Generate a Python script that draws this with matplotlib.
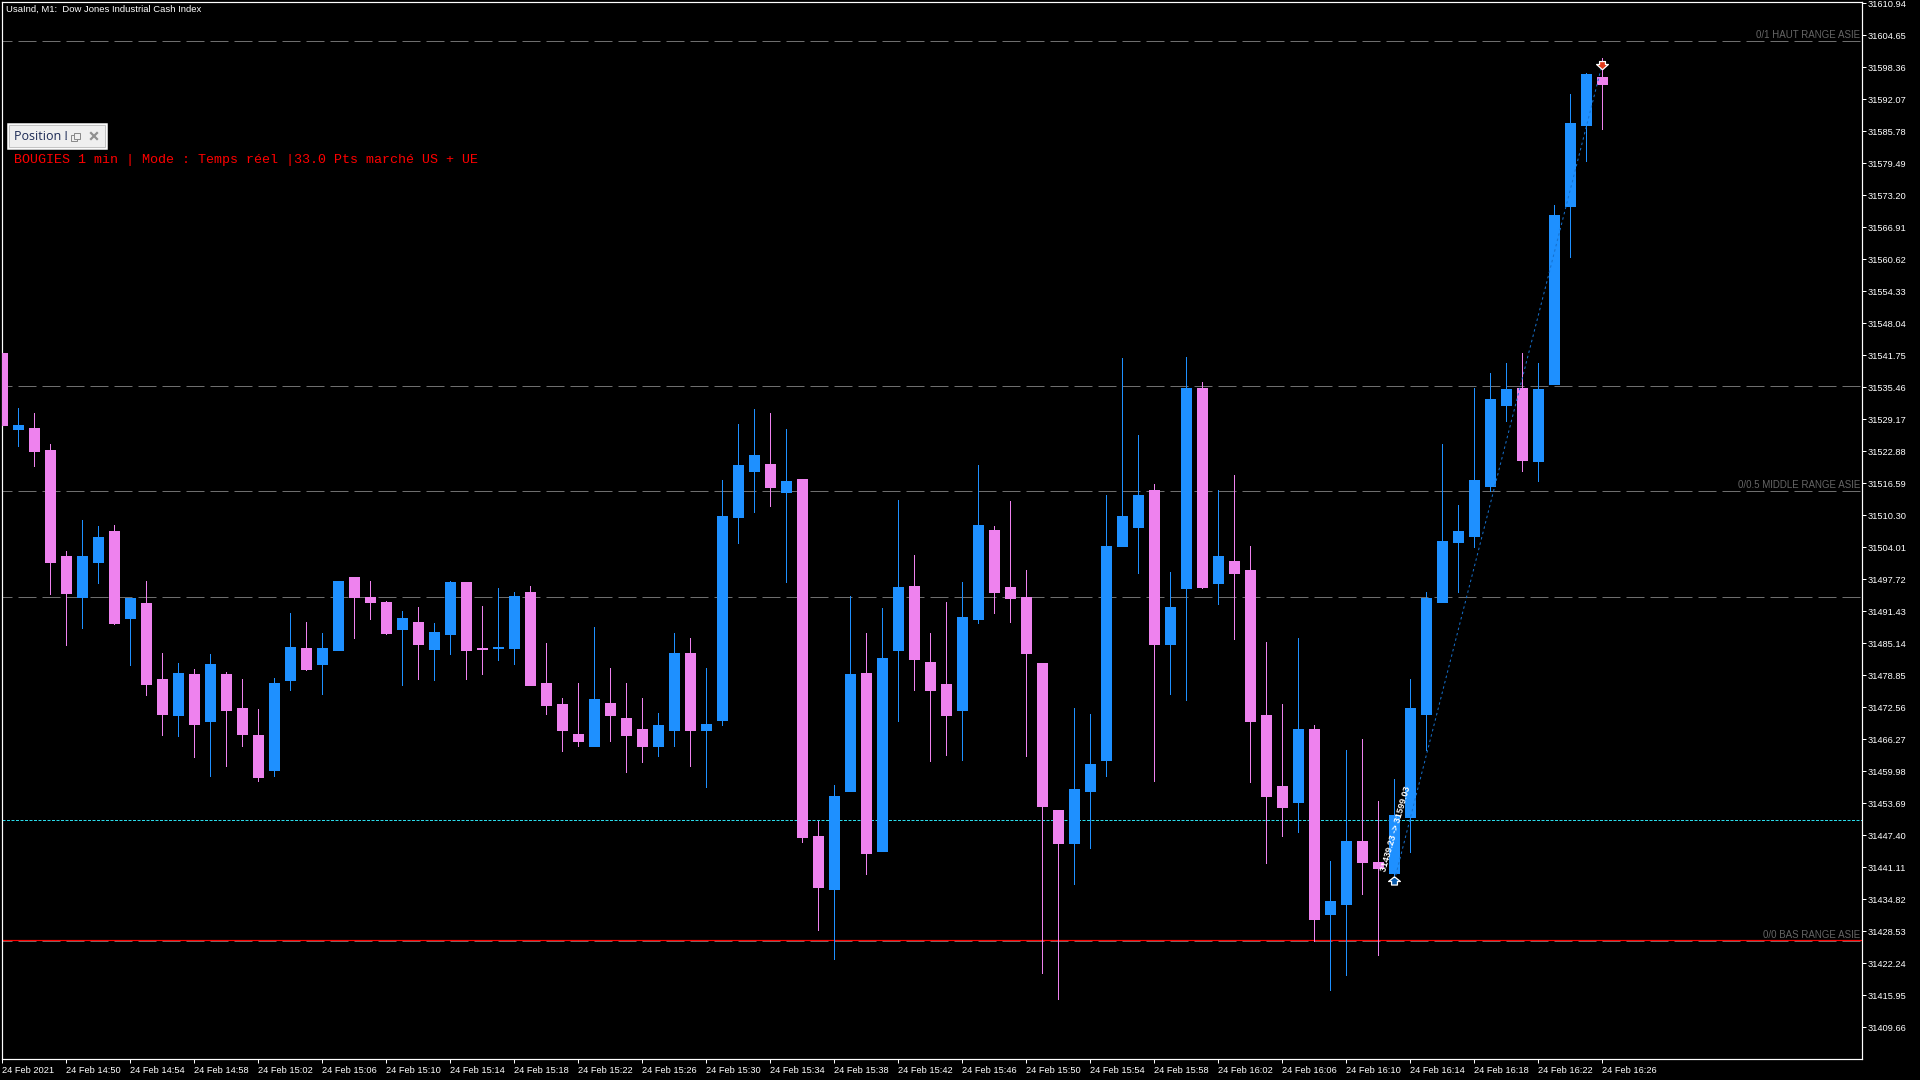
import matplotlib
matplotlib.use('Agg')
import matplotlib.pyplot as plt
from matplotlib.patches import Rectangle
from matplotlib.transforms import ScaledTranslation

plt.rcParams['font.family'] = ['Liberation Sans', 'DejaVu Sans']
plt.rcParams['lines.scale_dashes'] = False

opens = [31542.2, 31527.3, 31527.5, 31523.1, 31502.3, 31494.2, 31501.1, 31507.2, 31490.1, 31493.1,
         31478.1, 31471.0, 31479.1, 31469.9, 31479.1, 31472.4, 31467.1, 31460.2, 31477.9, 31484.2,
         31481.1, 31483.8, 31498.2, 31494.2, 31493.3, 31488.0, 31489.3, 31484.0, 31487.0, 31497.2,
         31484.2, 31484.2, 31484.2, 31495.2, 31477.3, 31473.2, 31467.3, 31465.0, 31473.4, 31470.5,
         31468.3, 31465.0, 31468.1, 31483.2, 31468.1, 31470.1, 31510.0, 31519.0, 31520.4, 31514.9,
         31517.4, 31447.2, 31436.9, 31456.1, 31479.3, 31444.4, 31483.8, 31496.4, 31481.5, 31477.2,
         31472.1, 31490.0, 31507.4, 31496.2, 31494.2, 31481.3, 31452.4, 31445.9, 31456.1, 31462.3,
         31504.3, 31508.0, 31515.3, 31485.0, 31496.0, 31535.3, 31497.0, 31501.3, 31499.6, 31471.0,
         31457.1, 31454.0, 31468.3, 31431.9, 31433.9, 31446.3, 31442.1, 31440.0, 31451.0, 31471.3,
         31493.3, 31505.0, 31506.2, 31516.0, 31532.0, 31535.3, 31521.0, 31536.1, 31571.1, 31587.0,
         31596.5]
highs = [31542.2, 31531.4, 31530.4, 31524.3, 31503.3, 31509.4, 31508.2, 31508.4, 31494.0, 31497.4,
         31483.2, 31481.3, 31480.1, 31483.0, 31479.5, 31478.1, 31472.2, 31478.3, 31491.1, 31489.3,
         31487.2, 31497.4, 31498.2, 31497.4, 31493.5, 31491.5, 31492.3, 31489.1, 31497.4, 31497.2,
         31492.5, 31496.0, 31495.2, 31496.4, 31485.2, 31474.4, 31477.3, 31488.4, 31480.3, 31477.3,
         31474.4, 31471.5, 31487.1, 31486.2, 31480.3, 31517.2, 31528.2, 31531.2, 31530.4, 31527.3,
         31517.4, 31450.2, 31457.3, 31494.5, 31487.1, 31492.1, 31513.3, 31502.5, 31487.1, 31493.3,
         31497.2, 31520.2, 31508.2, 31513.1, 31499.6, 31481.3, 31452.4, 31472.4, 31471.3, 31514.3,
         31541.2, 31526.1, 31516.5, 31499.2, 31541.4, 31536.5, 31515.3, 31518.3, 31504.3, 31485.4,
         31473.2, 31486.2, 31469.1, 31442.4, 31464.2, 31466.3, 31454.2, 31458.5, 31478.1, 31495.2,
         31524.3, 31512.4, 31535.3, 31538.3, 31540.2, 31542.2, 31540.2, 31571.3, 31593.1, 31597.2,
         31600.2]
lows = [31528.1, 31523.9, 31520.0, 31494.8, 31484.8, 31488.2, 31497.0, 31488.9, 31480.9, 31475.0,
        31467.1, 31466.9, 31462.8, 31459.1, 31461.0, 31465.0, 31458.1, 31459.1, 31476.0, 31479.9,
        31475.2, 31483.8, 31486.2, 31489.9, 31487.0, 31477.0, 31478.1, 31477.9, 31483.0, 31478.1,
        31479.1, 31481.9, 31481.1, 31477.0, 31471.2, 31464.0, 31465.0, 31465.0, 31465.9, 31459.9,
        31461.8, 31463.0, 31465.0, 31461.1, 31456.9, 31469.1, 31504.9, 31510.9, 31512.1, 31497.2,
        31446.1, 31428.8, 31423.1, 31456.1, 31439.8, 31444.4, 31469.8, 31476.0, 31462.0, 31463.2,
        31462.3, 31489.1, 31491.1, 31489.4, 31463.0, 31420.3, 31415.2, 31437.9, 31444.9, 31459.1,
        31504.3, 31499.0, 31458.1, 31475.2, 31474.0, 31496.0, 31492.9, 31486.0, 31457.9, 31442.0,
        31447.2, 31448.1, 31426.7, 31417.0, 31420.0, 31435.9, 31423.9, 31439.1, 31444.1, 31464.2,
        31493.3, 31495.2, 31504.1, 31515.0, 31528.8, 31519.0, 31517.1, 31536.1, 31561.1, 31579.9,
        31586.2]
closes = [31528.1, 31528.1, 31522.9, 31501.1, 31495.0, 31502.3, 31506.0, 31489.1, 31494.0, 31477.1,
          31471.2, 31479.3, 31469.3, 31481.1, 31472.0, 31467.3, 31458.9, 31477.3, 31484.4, 31480.1,
          31484.2, 31497.4, 31494.2, 31493.3, 31487.2, 31490.1, 31485.0, 31487.4, 31497.2, 31483.8,
          31484.0, 31484.4, 31494.4, 31477.0, 31473.0, 31468.1, 31465.9, 31474.2, 31471.0, 31467.1,
          31465.0, 31469.1, 31483.2, 31468.1, 31469.3, 31510.2, 31520.2, 31522.2, 31515.9, 31517.1,
          31447.1, 31437.3, 31455.2, 31479.1, 31443.9, 31482.3, 31496.2, 31482.0, 31476.0, 31471.0,
          31490.3, 31508.4, 31495.2, 31494.0, 31483.2, 31453.1, 31445.9, 31456.5, 31461.4, 31504.3,
          31510.2, 31514.3, 31485.0, 31492.3, 31535.3, 31496.2, 31502.3, 31499.0, 31469.8, 31455.2,
          31453.0, 31468.3, 31431.0, 31434.5, 31446.3, 31442.1, 31440.9, 31451.4, 31472.4, 31494.0,
          31505.3, 31507.3, 31517.2, 31533.2, 31535.1, 31521.2, 31535.1, 31569.3, 31587.4, 31597.0,
          31595.1]

price_ticks = [31610.94, 31604.65, 31598.36, 31592.07, 31585.78, 31579.49, 31573.20, 31566.91, 31560.62,
               31554.33, 31548.04, 31541.75, 31535.46, 31529.17, 31522.88, 31516.59, 31510.30, 31504.01,
               31497.72, 31491.43, 31485.14, 31478.85, 31472.56, 31466.27, 31459.98, 31453.69, 31447.40,
               31441.11, 31434.82, 31428.53, 31422.24, 31415.95, 31409.66]
time_labels = ['24 Feb 2021', '24 Feb 14:50', '24 Feb 14:54', '24 Feb 14:58', '24 Feb 15:02', '24 Feb 15:06',
               '24 Feb 15:10', '24 Feb 15:14', '24 Feb 15:18', '24 Feb 15:22', '24 Feb 15:26', '24 Feb 15:30',
               '24 Feb 15:34', '24 Feb 15:38', '24 Feb 15:42', '24 Feb 15:46', '24 Feb 15:50', '24 Feb 15:54',
               '24 Feb 15:58', '24 Feb 16:02', '24 Feb 16:06', '24 Feb 16:10', '24 Feb 16:14', '24 Feb 16:18',
               '24 Feb 16:22', '24 Feb 16:26']
grey_levels = [31603.5, 31535.8, 31515.05, 31494.15, 31426.6]
red_level = 31426.85
cyan_level = 31450.5
range_labels = ['0/1 HAUT RANGE ASIE', '0/0.5 MIDDLE RANGE ASIE', '0/0 BAS RANGE ASIE']
trade_bars = [87, 100]
trade_prices = [31438.5, 31599.1]

BLUE = '#1E90FF'
PINK = '#EE82EE'
PX = 0.72  # one pixel in points at dpi 100

fig = plt.figure(figsize=(19.2, 10.8), dpi=100, facecolor='black')
ax = fig.add_axes([2 / 1920, 1 - 1059 / 1080, 1860 / 1920, 1057 / 1080], facecolor='black')

# Candles
for i in range(len(opens)):
    col = BLUE if closes[i] >= opens[i] else PINK
    ax.vlines(i, lows[i], highs[i], color=col, lw=PX, zorder=3, antialiased=False)
    ax.bar(i, abs(closes[i] - opens[i]), bottom=min(opens[i], closes[i]), width=10 / 16,
           color=col, edgecolor=col, linewidth=PX, zorder=4, antialiased=False)

# Range and level lines, behind the candles
for lev in grey_levels:
    ax.axhline(lev, color='#6e6e6e', lw=PX, zorder=1, dash_capstyle='butt',
               linestyle=(8 * PX, (18 * PX, 6 * PX)))
ax.axhline(red_level, color='#ff0000', lw=PX * 1.2, zorder=2)
ax.axhline(cyan_level, color='#2bdcea', lw=PX, zorder=1, dash_capstyle='butt',
           linestyle=(0, (3 * PX, 1.5 * PX)))

# Trade line and arrows
ax.plot(trade_bars, trade_prices, color='#1670cc', lw=PX, zorder=5, dash_capstyle='butt',
        linestyle=(0, (2.5 * PX, 3 * PX)))
up_arrow = [(0, 0.8), (1, 0), (0.5, 0), (0.5, -0.6), (-0.5, -0.6), (-0.5, 0), (-1, 0), (0, 0.8)]
down_arrow = [(0, -0.9), (1, 0), (0.5, 0), (0.5, 0.5), (-0.5, 0.5), (-0.5, 0), (-1, 0), (0, -0.9)]
ax.plot(trade_bars[0], trade_prices[0], marker=up_arrow, ms=8.5, mfc='#0b5cad', mec='white', mew=0.9, zorder=6)
ax.plot(trade_bars[1], trade_prices[1], marker=down_arrow, ms=8.5, mfc='#e03a1a', mec='white', mew=0.9, zorder=6)

ax.set_xlim((2 - 2.4) / 16, (1862 - 2.4) / 16)
ax.set_ylim(31611.59 - 0.19656 * 1059, 31611.59 - 0.19656 * 2)

# Axes
for s in ax.spines.values():
    s.set_color('white')
    s.set_linewidth(PX * 1.2)
ax.yaxis.tick_right()
ax.set_yticks(price_ticks)
ax.set_yticklabels(['%.2f' % p for p in price_ticks])
ax.set_xticks([4 * i for i in range(len(time_labels))])
ax.set_xticklabels(time_labels, ha='left')
ax.tick_params(colors='white', labelcolor='white', length=4 * PX, width=PX, labelsize=6.7, pad=1)
ax.tick_params(axis='x', pad=2)

# Screen annotations in pixel coordinates
over = fig.add_axes([0, 0, 1, 1], facecolor='none')
over.set_xlim(0, 1920)
over.set_ylim(1080, 0)
over.axis('off')

over.text(6.5, 9.7, 'UsaInd, M1:  Dow Jones Industrial Cash Index', color='white', fontsize=6.8, va='center')
label_y = [34.7, 485, 934.6]
for txt, y in zip(range_labels, label_y):
    over.text(1860, y, txt, color='#666666', fontsize=7, ha='right', va='center')

over.text(14, 160, 'BOUGIES 1 min | Mode : Temps réel |33.0 Pts marché US + UE', color='#ff0000',
          fontsize=9.6, family=['Liberation Mono', 'DejaVu Sans Mono'], va='center')

# Small floating window
over.add_patch(Rectangle((7.5, 123.5), 99, 25, fc='#efefef', ec='white', lw=1.5 * PX))
over.add_patch(Rectangle((9, 125), 96, 22, fc='none', ec='#c4c4c4', lw=PX))
over.text(13.5, 136.5, 'Position !', color='#1c2a55', fontsize=9, va='center',
          family=['Open Sans', 'DejaVu Sans'])
over.add_patch(Rectangle((71, 135), 6, 6, fc='none', ec='#8a8a8a', lw=PX))
over.add_patch(Rectangle((74, 132.5), 6, 6, fc='#efefef', ec='#8a8a8a', lw=PX))
over.plot([91, 97], [133, 139], color='#909090', lw=2.2 * PX)
over.plot([91, 97], [139, 133], color='#909090', lw=2.2 * PX)

# Trade text along the line
over.text(1395.5, 829, '31439.23 -> 31599.03', color='white', fontsize=6.5, fontweight='bold', rotation=74,
          ha='center', va='center', zorder=10)

fig.savefig('out.png', dpi=100, facecolor='black')
